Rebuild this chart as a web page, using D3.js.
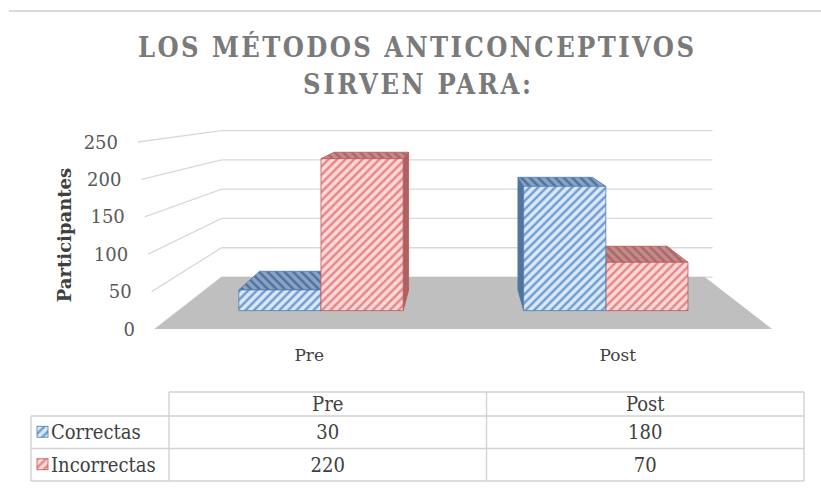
<!DOCTYPE html>
<html>
<head>
<meta charset="utf-8">
<script src="https://cdn.jsdelivr.net/npm/d3@7"></script>
<style>
    body { margin: 0; background: #fff; }
    svg { display: block; }
</style>
</head>
<body>
<div id="chart"></div>
<script>
'use strict';

// data
const categories = ['Pre', 'Post'];
const seriesNames = ['Correctas', 'Incorrectas'];
const correctas = [30, 180];
const incorrectas = [220, 70];
const yTicks = [0, 50, 100, 150, 200, 250];
const titleLines = ['LOS MÉTODOS ANTICONCEPTIVOS', 'SIRVEN PARA:'];
const axisTitle = 'Participantes';

const width = 821, height = 501;
const serif = '"DejaVu Serif", "Liberation Serif", serif';
const narrow = '"DejaVu Serif Condensed", "DejaVu Serif", serif';

const svg = d3.select('#chart')
    .append('svg')
    .attr('width', width)
    .attr('height', height);

// hatch patterns
const defs = svg.append('defs');
function hatch(id, bg, stripe, size, angle) {
    const p = defs.append('pattern')
        .attr('id', id)
        .attr('patternUnits', 'userSpaceOnUse')
        .attr('width', size)
        .attr('height', size)
        .attr('patternTransform', 'rotate(' + angle + ')');
    p.append('rect').attr('width', size).attr('height', size).attr('fill', bg);
    p.append('line')
        .attr('x1', size / 2).attr('y1', 0)
        .attr('x2', size / 2).attr('y2', size)
        .attr('stroke', stripe)
        .attr('stroke-width', size * 0.42);
}
hatch('frontC', '#dfeaf8', '#6e9dd3', 6, 45);
hatch('topC', '#8aa5c7', '#50719b', 6, -45);
hatch('frontI', '#fcdcdc', '#e78686', 6, 45);
hatch('topI', '#c48b8b', '#a96767', 6, -45);

const style = {
    Correctas: {front: 'url(#frontC)', top: 'url(#topC)', side: '#52739c', stroke: '#4f7cb3'},
    Incorrectas: {front: 'url(#frontI)', top: 'url(#topI)', side: '#ad6262', stroke: '#c25552'}
};

// chart border (top edge)
svg.append('line')
    .attr('x1', 9).attr('x2', width)
    .attr('y1', 11).attr('y2', 11)
    .attr('stroke', '#dadada')
    .attr('stroke-width', 2);

// title
[[138, 57, 556], [303, 94, 228]].forEach(function(p, i) {
    svg.append('text')
        .attr('x', p[0]).attr('y', p[1])
        .attr('textLength', p[2])
        .attr('lengthAdjust', 'spacing')
        .style('font-family', narrow)
        .style('font-stretch', 'condensed')
        .style('font-weight', 'bold')
        .style('font-size', '27px')
        .style('fill', '#7a7a7a')
        .text(titleLines[i]);
});

// scales (front plane)
const x = d3.scaleBand()
    .domain(categories)
    .range([155, 772])
    .paddingInner(0.423)
    .paddingOuter(0.2115);
const xs = d3.scaleBand()
    .domain(seriesNames)
    .range([0, x.bandwidth()]);
const y = d3.scaleLinear()
    .domain([0, 250])
    .range([329, 142]);
const sideX = d3.scaleLinear()     // front edge of the side wall leans slightly
    .domain([0, 250])
    .range([155, 138]);

// simple one point perspective
const vp = {x: 462, y: 89.4};
const k = 0.277;
function project(px, v, d) {
    const s = 1 / (1 + k * d);
    return [vp.x + (px - vp.x) * s, vp.y + (y(v) - vp.y) * s];
}
const left = x.range()[0], right = x.range()[1];

// gridlines: side wall + back wall
const grid = svg.append('g')
    .attr('stroke', '#d9d9d9')
    .attr('stroke-width', 1.3)
    .attr('fill', 'none');
yTicks.forEach(function(v) {
    const b0 = project(left, v, 1);
    const b1 = project(right + 10, v, 1);
    grid.append('path')
        .attr('d', d3.line()([[sideX(v), y(v)], b0, b1]));
});

// floor
svg.append('polygon')
    .attr('points', [
        project(left, 0, 0), project(right, 0, 0),
        project(right, 0, 1), project(left, 0, 1)
    ].join(' '))
    .attr('fill', '#bfbfbf');

// tick labels
svg.append('g')
    .selectAll('text')
    .data(yTicks)
    .enter()
    .append('text')
        .attr('x', d => sideX(d) - 20)
        .attr('y', d => y(d))
        .attr('text-anchor', 'end')
        .attr('dominant-baseline', 'central')
        .style('font-family', serif)
        .style('font-size', '18px')
        .style('fill', '#595959')
        .text(d => d);

svg.append('text')
    .attr('transform', 'translate(64,235) rotate(-90)')
    .attr('text-anchor', 'middle')
    .attr('dominant-baseline', 'central')
    .style('font-family', serif)
    .style('font-weight', 'bold')
    .style('font-size', '18px')
    .style('fill', '#404040')
    .text(axisTitle);

// category labels
svg.append('g')
    .selectAll('text')
    .data(categories)
    .enter()
    .append('text')
        .attr('x', d => x(d) + x.bandwidth() / 2)
        .attr('y', y(0) + 26)
        .attr('text-anchor', 'middle')
        .attr('dominant-baseline', 'central')
        .style('font-family', serif)
        .style('font-size', '17px')
        .style('fill', '#404040')
        .text(d => d);

// bars
let bars = [];
categories.forEach(function(c, i) {
    bars.push({cat: c, series: 'Correctas', value: correctas[i]});
    bars.push({cat: c, series: 'Incorrectas', value: incorrectas[i]});
});
bars.forEach(function(b) {
    b.x0 = x(b.cat) + xs(b.series);
    b.x1 = b.x0 + xs.bandwidth();
});
// paint the bars farthest from the eye first
bars.sort((a, b) => Math.abs((b.x0 + b.x1) / 2 - vp.x) - Math.abs((a.x0 + a.x1) / 2 - vp.x));

const d0 = 0.3, d1 = 0.7;
const barG = svg.append('g');
bars.forEach(function(b) {
    const st = style[b.series];
    const g = barG.append('g')
        .attr('stroke', st.stroke)
        .attr('stroke-width', 0.8)
        .attr('stroke-linejoin', 'round');
    const sx = (b.x0 + b.x1) / 2 < vp.x ? b.x1 : b.x0;
    g.append('polygon')
        .attr('points', [project(sx, 0, d0), project(sx, b.value, d0),
            project(sx, b.value, d1), project(sx, 0, d1)].join(' '))
        .attr('fill', st.side);
    g.append('polygon')
        .attr('points', [project(b.x0, b.value, d0), project(b.x1, b.value, d0),
            project(b.x1, b.value, d1), project(b.x0, b.value, d1)].join(' '))
        .attr('fill', st.top);
    g.append('polygon')
        .attr('points', [project(b.x0, 0, d0), project(b.x1, 0, d0),
            project(b.x1, b.value, d0), project(b.x0, b.value, d0)].join(' '))
        .attr('fill', st.front);
});

// data table
const tLeft = 31, tRight = 804, tLabel = 169;
const tHeadTop = 392, tHeadBottom = 416, tBottom = 481;
const col = d3.scaleBand().domain(categories).range([tLabel, tRight]);
const row = d3.scaleBand().domain(seriesNames).range([tHeadBottom, tBottom]);
const values = {Correctas: correctas, Incorrectas: incorrectas};

const table = svg.append('g');
const border = {stroke: '#d2d2d2', width: 1.4};
function tline(x1, y1, x2, y2) {
    table.append('line')
        .attr('x1', x1).attr('y1', y1).attr('x2', x2).attr('y2', y2)
        .attr('stroke', border.stroke)
        .attr('stroke-width', border.width);
}
tline(tLabel, tHeadTop, tRight, tHeadTop);
seriesNames.forEach(s => tline(tLeft, row(s), tRight, row(s)));
tline(tLeft, tBottom, tRight, tBottom);
tline(tLeft, tHeadBottom, tLeft, tBottom);
categories.forEach(c => tline(col(c), tHeadTop, col(c), tBottom));
tline(tRight, tHeadTop, tRight, tBottom);

const tableFont = {family: narrow, size: '20px', fill: '#404040'};
function cellText(sel) {
    return sel
        .attr('dominant-baseline', 'central')
        .style('font-family', tableFont.family)
        .style('font-stretch', 'condensed')
        .style('font-size', tableFont.size)
        .style('fill', tableFont.fill);
}
cellText(table.selectAll('text.head')
    .data(categories)
    .enter()
    .append('text')
        .attr('x', d => col(d) + col.bandwidth() / 2)
        .attr('y', (tHeadTop + tHeadBottom) / 2)
        .attr('text-anchor', 'middle'))
    .text(d => d);

seriesNames.forEach(function(s) {
    const cy = row(s) + row.bandwidth() / 2;
    table.append('rect')
        .attr('x', 37).attr('y', cy - 6)
        .attr('width', 11).attr('height', 11)
        .attr('fill', style[s].front)
        .attr('stroke', style[s].stroke)
        .attr('stroke-width', 0.8);
    cellText(table.append('text')
        .attr('x', 51)
        .attr('y', cy))
        .text(s);
    categories.forEach(function(c, i) {
        cellText(table.append('text')
            .attr('x', col(c) + col.bandwidth() / 2)
            .attr('y', cy)
            .attr('text-anchor', 'middle'))
            .text(values[s][i]);
    });
});
</script>
</body>
</html>
